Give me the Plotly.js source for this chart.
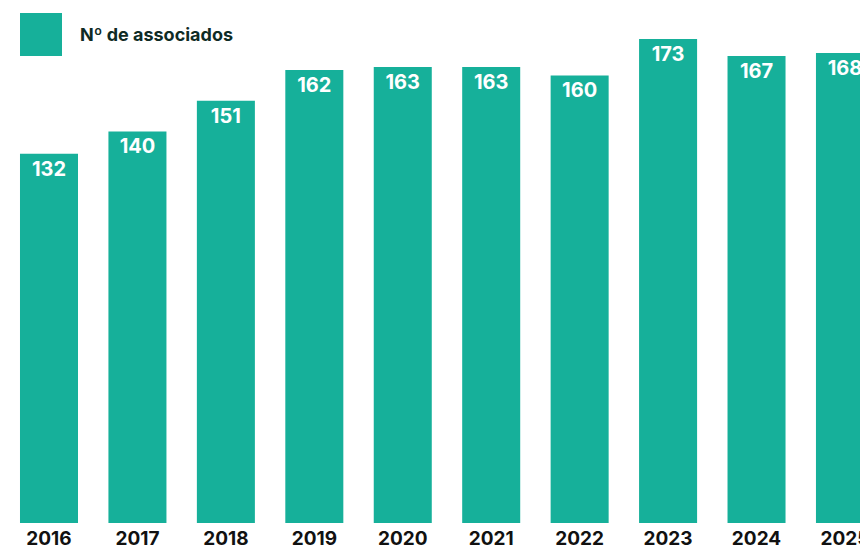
<!DOCTYPE html>
<html>
<head>
<meta charset="utf-8">
<script src="https://cdn.plot.ly/plotly-3.0.1.min.js"></script>
<style>html,body{margin:0;padding:0;background:#fff;}#chart{width:860px;height:549px;}</style>
</head>
<body>
<div id="chart"></div>
<script>
var years = ['2016','2017','2018','2019','2020','2021','2022','2023','2024','2025'];
var associados = [132,140,151,162,163,163,160,173,167,168];
var seriesName = 'Nº de associados';

var barColor = '#16b09a';
var fontFam = 'Inter, "Open Sans", "DejaVu Sans", sans-serif';

var trace = {
  type: 'bar',
  x: years,
  y: associados,
  marker: {color: barColor},
  text: associados.map(String),
  textposition: 'inside',
  insidetextanchor: 'end',
  textangle: 0,
  textfont: {family: fontFam, size: 20, color: '#ffffff', weight: 700},
  hoverinfo: 'x+y',
  showlegend: false,
  cliponaxis: true
};

var layout = {
  width: 860, height: 549,
  margin: {l: 0, r: 0, t: 5, b: 26, pad: 0},
  paper_bgcolor: '#ffffff',
  plot_bgcolor: '#ffffff',
  bargap: 0.344,
  showlegend: false,
  xaxis: {
    type: 'category',
    range: [-0.554, 9.17],
    showgrid: false, zeroline: false, showline: false,
    ticks: '',
    tickfont: {family: fontFam, size: 19, color: '#111111', weight: 700},
    ticklabelstandoff: 2,
    fixedrange: true
  },
  yaxis: {
    range: [0, 185.2],
    showgrid: false, zeroline: false, showline: false,
    showticklabels: false, ticks: '',
    fixedrange: true
  },
  shapes: [{
    type: 'rect', xref: 'paper', yref: 'paper',
    x0: 20/860, x1: 62/860,
    y0: 1 - (56-5)/518, y1: 1 - (13-5)/518,
    fillcolor: barColor, line: {width: 0}
  }],
  annotations: [{
    xref: 'paper', yref: 'paper',
    x: 78/860, y: 1 - (34-5)/518,
    xanchor: 'left', yanchor: 'middle',
    text: '<b>' + seriesName + '</b>',
    showarrow: false,
    font: {family: fontFam, size: 18, color: '#0f2b25'}
  }]
};

Plotly.newPlot('chart', [trace], layout, {displayModeBar: false, staticPlot: true});
</script>
</body>
</html>
